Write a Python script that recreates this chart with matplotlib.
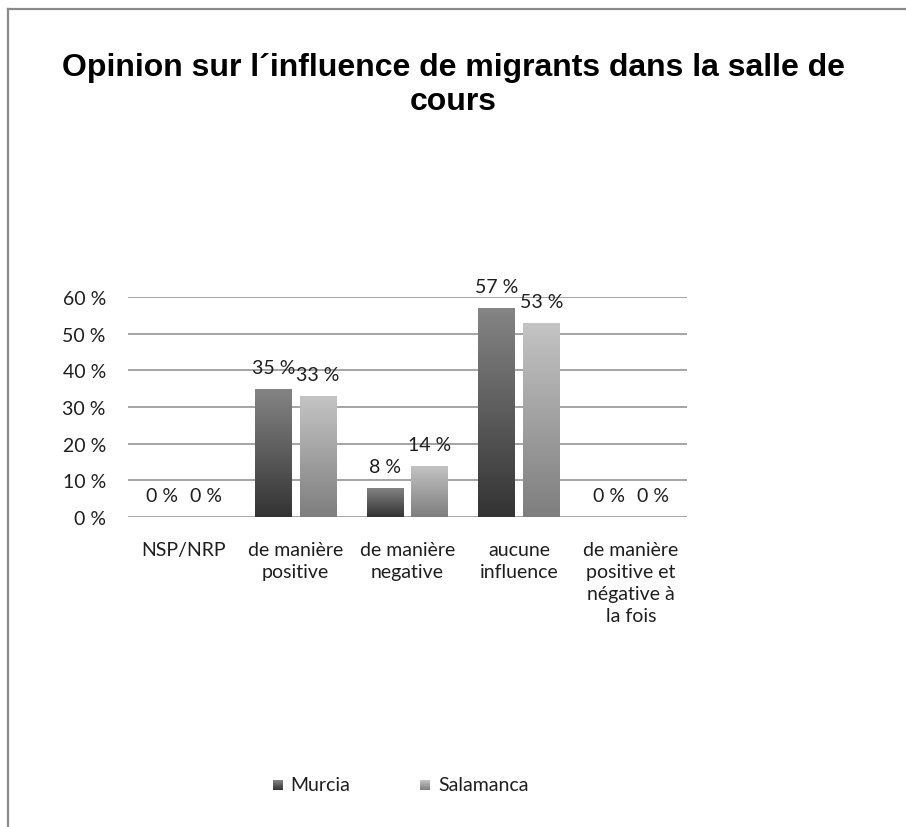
import numpy as np
import matplotlib
matplotlib.use("Agg")
import matplotlib.pyplot as plt
from matplotlib.lines import Line2D
from matplotlib.colors import LinearSegmentedColormap

categories = ["NSP/NRP", "de manière\npositive", "de manière\nnegative",
              "aucune\ninfluence", "de manière\npositive et\nnégative à\nla fois"]
murcia = [0, 35, 8, 57, 0]
salamanca = [0, 33, 14, 53, 0]
series_names = ["Murcia", "Salamanca"]
yticks = [0, 10, 20, 30, 40, 50, 60]
title = "Opinion sur l´influence de migrants dans la salle de\ncours"

LABEL_FONT = "Lato"
FS = 14
W, H = 906, 828
fig = plt.figure(figsize=(W / 100, H / 100), dpi=100)

# chart border (left and top edges)
border = "#8a8a8a"
fig.add_artist(Line2D([8 / W, 8 / W], [0, 1 - 10 / H], color=border, lw=1.6,
                      transform=fig.transFigure))
fig.add_artist(Line2D([8 / W, 1], [1 - 10 / H, 1 - 10 / H], color=border, lw=1.6,
                      transform=fig.transFigure))

fig.text(0.5, 1 - 85 / H, title, ha="center", va="center", fontsize=23,
         fontweight="bold", family="Liberation Sans", linespacing=1.16)

ax = fig.add_axes([128 / W, 1 - 518 / H, (687 - 128) / W, (518 - 298) / H])
for s in ax.spines.values():
    s.set_visible(False)
ax.set_yticks(yticks)
ax.set_yticklabels([f"{v} %" for v in yticks], family=LABEL_FONT, fontsize=FS,
                   color="#1e1e1e")
ax.tick_params(axis="y", length=0, pad=16)
ax.set_xticks(range(len(categories)))
ax.set_xticklabels(categories, family=LABEL_FONT, fontsize=FS, color="#1e1e1e",
                   linespacing=1.36, va="top")
ax.tick_params(axis="x", length=0, pad=17)
ax.grid(axis="y", color="#8c8c8c", lw=1.1)
ax.set_axisbelow(True)

cmaps = [
    LinearSegmentedColormap.from_list("murcia", ["#333333", "#858585"]),
    LinearSegmentedColormap.from_list("salamanca", ["#7e7e7e", "#c4c4c4"]),
]
grad = np.linspace(0, 1, 256).reshape(-1, 1)

x = np.arange(len(categories))
bw = 0.33
offs = [-0.2, 0.2]
for vals, off, cm in zip([murcia, salamanca], offs, cmaps):
    bars = ax.bar(x + off, vals, bw, facecolor="none", edgecolor="none", zorder=2)
    for b, v in zip(bars, vals):
        if v > 0:
            x0 = b.get_x()
            im = ax.imshow(grad, cmap=cm, origin="lower", aspect="auto",
                           extent=[x0, x0 + b.get_width(), 0, v], zorder=2,
                           interpolation="bilinear")
            im.set_clip_path(b)
        ax.annotate(f"{v} %", (b.get_x() + b.get_width() / 2, v),
                    xytext=(0, 15.5), textcoords="offset points", ha="center",
                    va="center", family=LABEL_FONT, fontsize=FS, color="#1e1e1e")

ax.set_xlim(-0.5, len(categories) - 0.5)
ax.set_ylim(0, 60)

# legend with gradient swatches
legend_items = [(273, 290), (420, 438)]
for (mx, tx), cm, name in zip(legend_items, cmaps, series_names):
    lax = fig.add_axes([mx / W, 1 - 791 / H, 10 / W, 10 / H])
    lax.imshow(grad, cmap=cm, origin="lower", aspect="auto")
    lax.axis("off")
    fig.text(tx / W, 1 - 786 / H, name, ha="left", va="center",
             family=LABEL_FONT, fontsize=FS, color="#1e1e1e")

fig.savefig("out.png", dpi=100, facecolor="white")
